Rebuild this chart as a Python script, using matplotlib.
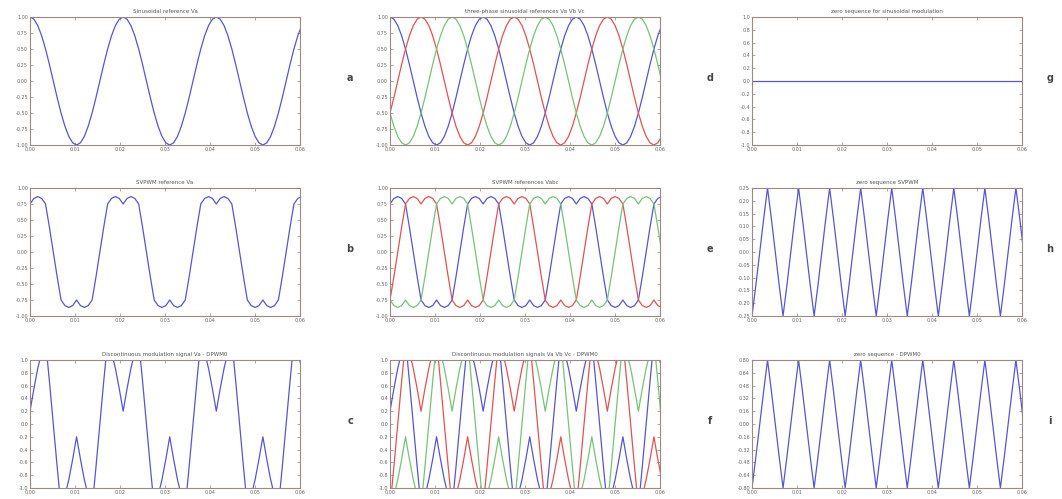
import numpy as np
import matplotlib
matplotlib.use("Agg")
import matplotlib.pyplot as plt

phase_deg = [0, 15, 30, 45, 60, 75, 90, 105, 120, 135, 150, 165,
             180, 195, 210, 225, 240, 255, 270, 285, 300, 315, 330, 345]
period_s = 0.0207
n_periods = 3

sine_ref = [1.000, 0.966, 0.866, 0.707, 0.500, 0.259, 0.000, -0.259,
            -0.500, -0.707, -0.866, -0.966, -1.000, -0.966, -0.866, -0.707,
            -0.500, -0.259, 0.000, 0.259, 0.500, 0.707, 0.866, 0.966]
svpwm_ref = [0.750, 0.837, 0.866, 0.837, 0.750, 0.388, 0.000, -0.388,
             -0.750, -0.837, -0.866, -0.837, -0.750, -0.837, -0.866, -0.837,
             -0.750, -0.388, 0.000, 0.388, 0.750, 0.837, 0.866, 0.837]
dpwm_ref = [0.20, 0.55, 0.87, 1.12, 1.30, 0.67, 0.00, -0.67,
            -1.30, -1.12, -0.87, -0.55, -0.20, -0.55, -0.87, -1.12,
            -1.30, -0.67, 0.00, 0.67, 1.30, 1.12, 0.87, 0.55]
zero_sine = [0.0, 0.0, 0.0, 0.0, 0.0, 0.0, 0.0, 0.0, 0.0, 0.0, 0.0, 0.0,
             0.0, 0.0, 0.0, 0.0, 0.0, 0.0, 0.0, 0.0, 0.0, 0.0, 0.0, 0.0]
zero_svpwm = [-0.250, -0.129, 0.000, 0.129, 0.250, 0.129, 0.000, -0.129,
              -0.250, -0.129, 0.000, 0.129, 0.250, 0.129, 0.000, -0.129,
              -0.250, -0.129, 0.000, 0.129, 0.250, 0.129, 0.000, -0.129]
zero_dpwm = [-0.80, -0.41, 0.00, 0.41, 0.80, 0.41, 0.00, -0.41,
             -0.80, -0.41, 0.00, 0.41, 0.80, 0.41, 0.00, -0.41,
             -0.80, -0.41, 0.00, 0.41, 0.80, 0.41, 0.00, -0.41]

titles = [
    ["Sinusoidal reference Va", "three-phase sinusoidal references Va Vb Vc",
     "zero sequence for sinusoidal modulation"],
    ["SVPWM reference Va", "SVPWM references Vabc", "zero sequence SVPWM"],
    ["Discontinuous modulation signal Va - DPWM0",
     "Discontinuous modulation signals Va Vb Vc - DPWM0",
     "zero sequence - DPWM0"],
]
letters = [["a", "d", "g"], ["b", "e", "h"], ["c", "f", "i"]]

colors = ["#5656d2", "#e25252", "#78c278"]  # phase a, b, c
frame_color = "#9c8a80"

W, H = 1062, 499
col_left = [30, 390, 752]
row_top = [17, 188, 360]
ax_w, ax_h = 270, 128


def periodic(vals, shift=0):
    v = np.roll(np.asarray(vals, dtype=float), shift)
    return np.append(np.tile(v, n_periods), v[0])


n = len(phase_deg)
t = np.arange(n * n_periods + 1) * period_s / n
shift_120 = n // 3


def style(ax, ylim, yticks, fmt):
    ax.set_xlim(0, 0.06)
    ax.set_ylim(*ylim)
    ax.set_xticks(np.arange(0, 0.0601, 0.01))
    ax.set_xticklabels([f"{x:.2f}" for x in np.arange(0, 0.0601, 0.01)])
    ax.set_yticks(yticks)
    ax.set_yticklabels([fmt.format(y) for y in yticks])
    ax.tick_params(direction="in", length=2, width=0.4, labelsize=3.5,
                   colors="#666666", top=True, right=True, pad=1.5)
    for sp in ax.spines.values():
        sp.set_color(frame_color)
        sp.set_linewidth(0.8)


fig = plt.figure(figsize=(W / 100, H / 100), dpi=100)

signals = [
    [[sine_ref], [sine_ref, sine_ref, sine_ref], [zero_sine]],
    [[svpwm_ref], [svpwm_ref, svpwm_ref, svpwm_ref], [zero_svpwm]],
    [[dpwm_ref], [dpwm_ref, dpwm_ref, dpwm_ref], [zero_dpwm]],
]

for r in range(3):
    for c in range(3):
        left = col_left[c] / W
        bottom = 1 - (row_top[r] + ax_h) / H
        ax = fig.add_axes([left, bottom, ax_w / W, ax_h / H])
        for k, sig in enumerate(signals[r][c]):
            ax.plot(t, periodic(sig, k * shift_120), color=colors[k], lw=0.9)

        if c == 2 and r == 0:
            style(ax, (-1, 1), np.linspace(-1, 1, 11), "{:.1f}")
        elif c == 2 and r == 1:
            style(ax, (-0.25, 0.25), np.linspace(-0.25, 0.25, 11), "{:.2f}")
        elif c == 2 and r == 2:
            style(ax, (-0.8, 0.8), np.linspace(-0.8, 0.8, 11), "{:.2f}")
        elif r == 2:
            style(ax, (-1, 1), np.linspace(-1, 1, 11), "{:.1f}")
        else:
            style(ax, (-1, 1), np.linspace(-1, 1, 9), "{:.2f}")

        ax.set_title(titles[r][c], fontsize=4, color="#555555", pad=3)

        lx = (col_left[c] + ax_w + (50 if c < 2 else 28)) / W
        ly = 1 - (row_top[r] + ax_h / 2 - 3) / H
        fig.text(lx, ly, letters[r][c], fontsize=7, fontweight="bold",
                 color="#444444", ha="center", va="center")

fig.savefig("out.png", dpi=100)
